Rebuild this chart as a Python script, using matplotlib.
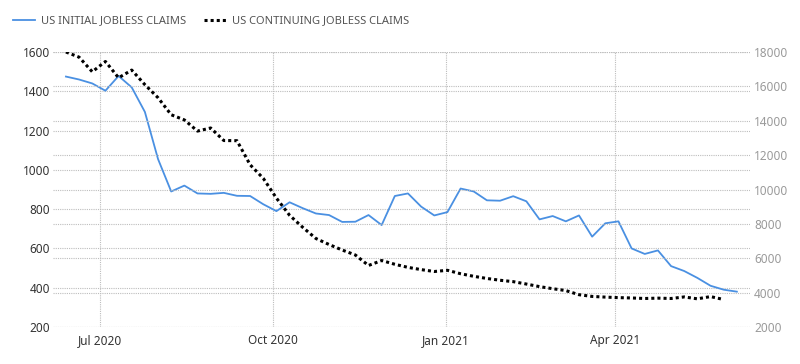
import numpy as np
import pandas as pd
import matplotlib
matplotlib.use("Agg")
import matplotlib.pyplot as plt
import matplotlib.dates as mdates

# weekly readings, starting Sat 13 Jun 2020
weeks = pd.date_range("2020-06-13", periods=52, freq="7D")

initial_claims = [
    1475, 1460, 1440, 1403, 1478, 1420, 1295, 1055, 890, 920,
    880, 878, 883, 868, 867, 825, 790, 835, 805, 778,
    770, 735, 736, 770, 719, 867, 880, 813, 768, 785,
    905, 890, 845, 843, 866, 840, 748, 765, 738, 768,
    660, 728, 738, 600, 572, 590, 510, 485, 450, 410,
    390, 380,
]

continuing_claims = [
    18000, 17700, 16850, 17450, 16500, 16950, 16100, 15340, 14350, 14050,
    13400, 13580, 12850, 12840, 11440, 10650, 9500, 8500, 7800, 7150,
    6800, 6480, 6190, 5580, 5870, 5650, 5470, 5340, 5230, 5300,
    5100, 4950, 4825, 4720, 4640, 4500, 4350, 4230, 4120, 3880,
    3780, 3740, 3710, 3690, 3660, 3680, 3660, 3750, 3640, 3770,
    3600,
]

left_ticks = [200, 400, 600, 800, 1000, 1200, 1400, 1600]
right_ticks = [2000, 4000, 6000, 8000, 10000, 12000, 14000, 16000, 18000]
month_ticks = pd.to_datetime(["2020-07-01", "2020-10-01", "2021-01-01", "2021-04-01"])

plt.rcParams["font.family"] = ["Noto Sans", "DejaVu Sans"]

fig = plt.figure(figsize=(8, 3.64), dpi=100)
ax = fig.add_axes([0.066, 0.1016, 0.8715, 0.7555])
ax2 = ax.twinx()

grid_kw = dict(color="#bdbdbd", linestyle=(0, (1, 1)), linewidth=0.8)

ax.plot(weeks, initial_claims, color="#4a90e2", linewidth=1.3,
        label="US INITIAL JOBLESS CLAIMS", zorder=3)
ax2.plot(weeks[:len(continuing_claims)], continuing_claims, color="black",
         linestyle=(0, (1, 1)), linewidth=2.2,
         label="US CONTINUING JOBLESS CLAIMS", zorder=3)

ax.set_ylim(200, 1600)
ax2.set_ylim(2000, 18000)
ax.set_xlim(pd.Timestamp("2020-06-06"), pd.Timestamp("2021-06-12"))

ax.set_yticks(left_ticks)
ax2.set_yticks(right_ticks)
ax.set_xticks(month_ticks)
ax.xaxis.set_major_formatter(mdates.DateFormatter("%b %Y"))

ax.grid(True, axis="both", **grid_kw)
ax2.grid(True, axis="y", **grid_kw)
ax.set_axisbelow(True)
ax2.set_axisbelow(True)

for a in (ax, ax2):
    for s in a.spines.values():
        s.set_visible(False)

ax.tick_params(axis="y", length=0, pad=2, labelsize=8.5, labelcolor="#333333")
ax.tick_params(axis="x", length=0, pad=5, labelsize=8.5, labelcolor="#333333")
ax2.tick_params(axis="y", length=0, pad=3, labelsize=8.5, labelcolor="#9a9a9a")

h1, l1 = ax.get_legend_handles_labels()
h2, l2 = ax2.get_legend_handles_labels()
fig.legend(h1 + h2, l1 + l2, loc="upper left", bbox_to_anchor=(0.004, 0.985), ncol=2,
           frameon=False, fontsize=8, labelcolor="#555555", handlelength=2.0,
           handletextpad=0.5, columnspacing=1.6)

fig.savefig("out.png", dpi=100)
